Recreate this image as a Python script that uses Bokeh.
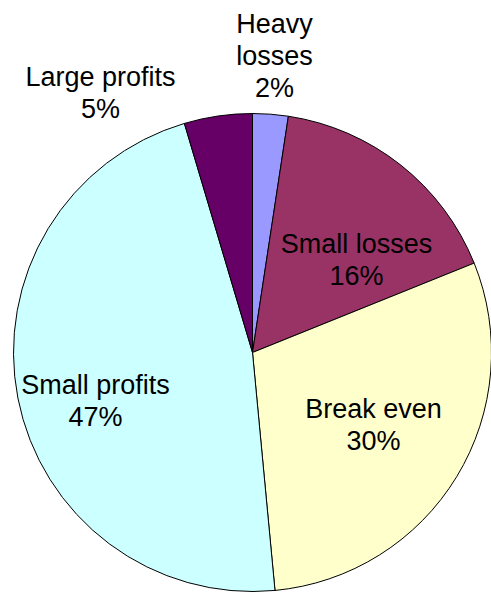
import math
from bokeh.plotting import figure
from bokeh.models import Range1d, ColumnDataSource
from bokeh.core.properties import value
from bokeh.embed import file_html
from bokeh.resources import INLINE

# ---- data ----
categories = ["Heavy losses", "Small losses", "Break even", "Small profits", "Large profits"]
values = [2.4, 16.5, 29.6, 46.9, 4.6]
label_names = [["Heavy", "losses"], ["Small losses"], ["Break even"], ["Small profits"], ["Large profits"]]

# ---- style ----
colors = ["#9999FF", "#993366", "#FFFFCC", "#CCFFFF", "#660066"]
label_dx = [22, 104, 121, -157, -152]
label_dy = [297, 93, -72, -48, 260]
W, H = 491, 593
CX, CY, R = 252, 241, 239
FONT = "Liberation Sans"
FS = 27
LINE = 32

p = figure(width=W, height=H, output_backend="svg", toolbar_location=None,
           x_range=Range1d(0, W), y_range=Range1d(0, H),
           min_border=0, background_fill_color="white", border_fill_color="white")
p.axis.visible = False
p.grid.visible = False
p.outline_line_color = None

total = sum(values)
starts, ends = [], []
cum = 0.0
for v in values:
    a0 = math.pi / 2 - 2 * math.pi * cum / total
    cum += v
    a1 = math.pi / 2 - 2 * math.pi * cum / total
    starts.append(a0)
    ends.append(a1)

src = ColumnDataSource(dict(x=[CX] * len(values), y=[CY] * len(values),
                            start=starts, end=ends, color=colors, cat=categories))
p.wedge(x="x", y="y", radius=R, start_angle="start", end_angle="end",
        direction="clock", fill_color="color", line_color="#000000", line_width=1,
        source=src)

tx, ty, tt = [], [], []
for i, v in enumerate(values):
    lines = label_names[i] + [f"{round(v / total * 100)}%"]
    n = len(lines)
    bx, by = CX + label_dx[i], CY + label_dy[i]
    for j, s in enumerate(lines):
        tx.append(bx)
        ty.append(by + (n - 1) / 2 * LINE - j * LINE)
        tt.append(s)

p.text(x=tx, y=ty, text=tt, text_align="center", text_baseline="middle",
       text_font=value(FONT), text_font_size=f"{FS}px", text_color="#000000")

open("out.html", "w").write(file_html(p, INLINE))
